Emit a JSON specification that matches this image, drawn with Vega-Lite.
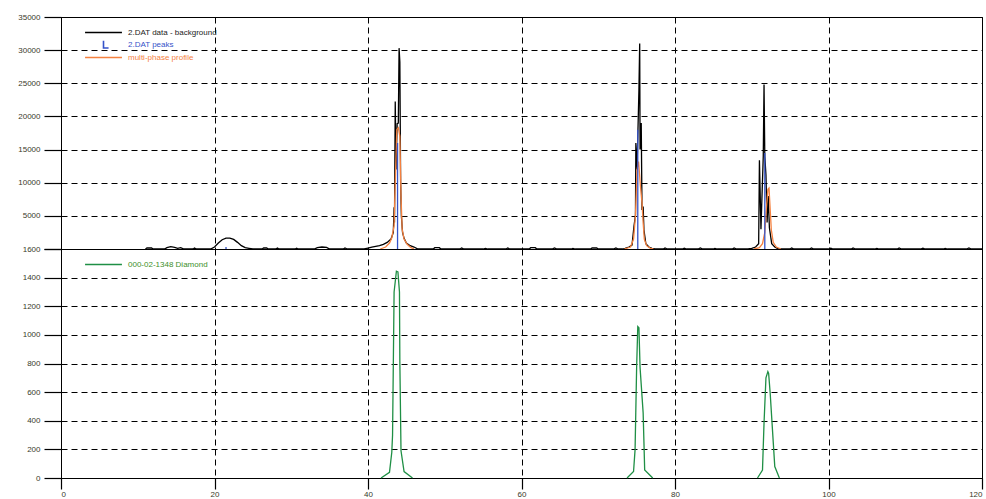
{
  "$schema": "https://vega.github.io/schema/vega-lite/v6.json",
  "padding": {"left": 5, "top": 12, "right": 5, "bottom": 0},
  "background": "white",
  "spacing": 0,
  "bounds": "flush",
  "config": {
    "font": "Liberation Sans",
    "view": {"stroke": "#000", "strokeWidth": 1},
    "axis": {
      "grid": true, "gridColor": "#000", "gridDash": [6, 4], "gridWidth": 1, "gridOpacity": 1,
      "domainColor": "#000", "domainWidth": 1, "tickColor": "#000", "tickWidth": 1.2,
      "labelFontSize": 8, "labelColor": "#3a3a2a", "labelFont": "Liberation Sans", "title": null
    },
    "legend": {
      "orient": "none", "title": null, "padding": 0, "labelFontSize": 8, "labelFont": "Liberation Sans",
      "labelOffset": 19, "rowPadding": 0, "symbolStrokeWidth": 1.6,
      "symbolType": "M-4,0H4", "symbolSize": 85
    }
  },
  "datasets": {
    "obs": [
      {"t":11,"v":0},{"t":11.2,"v":150},{"t":11.8,"v":150},{"t":12,"v":0},{"t":13.5,"v":0},{"t":13.8,"v":200},{"t":14.3,"v":350},{"t":14.8,"v":250},{"t":15.2,"v":100},{"t":15.6,"v":200},{"t":16,"v":0},{"t":17.2,"v":0},{"t":17.4,"v":150},{"t":17.6,"v":0},
      {"t":19.5,"v":0},{"t":20.0,"v":300},{"t":20.5,"v":900},{"t":21.0,"v":1400},{"t":21.5,"v":1650},{"t":22.0,"v":1650},{"t":22.5,"v":1450},{"t":23.0,"v":1000},{"t":23.5,"v":500},{"t":24.0,"v":200},{"t":24.5,"v":100},{"t":25,"v":0},
      {"t":26.2,"v":0},{"t":26.4,"v":150},{"t":26.8,"v":150},{"t":27,"v":0},{"t":28,"v":0},{"t":28.2,"v":150},{"t":28.4,"v":0},{"t":30.5,"v":0},{"t":30.7,"v":120},{"t":30.9,"v":0},{"t":33.0,"v":0},{"t":33.4,"v":200},{"t":34.0,"v":300},{"t":34.6,"v":250},{"t":35.0,"v":0},{"t":36.8,"v":0},{"t":37,"v":150},{"t":37.3,"v":0},
      {"t":39.5,"v":0},{"t":40,"v":150},{"t":40.5,"v":300},{"t":41,"v":400},{"t":41.5,"v":500},{"t":42,"v":700},{"t":42.5,"v":1000},{"t":43.0,"v":1500},{"t":43.3,"v":2500},{"t":43.4,"v":6300},{"t":43.45,"v":4000},{"t":43.55,"v":22250},{"t":43.65,"v":12000},{"t":43.8,"v":18900},{"t":43.95,"v":19000},{"t":44.05,"v":30300},{"t":44.15,"v":28200},{"t":44.25,"v":10000},{"t":44.35,"v":5000},{"t":44.5,"v":2500},{"t":44.7,"v":1600},{"t":45.0,"v":900},{"t":45.5,"v":500},{"t":46,"v":300},{"t":46.5,"v":0},
      {"t":48.5,"v":0},{"t":48.7,"v":200},{"t":49.3,"v":200},{"t":49.5,"v":0},{"t":52,"v":0},{"t":52.2,"v":150},{"t":52.5,"v":0},{"t":55,"v":0},{"t":55.3,"v":100},{"t":55.6,"v":0},{"t":58,"v":0},{"t":58.2,"v":150},{"t":58.5,"v":0},{"t":61,"v":0},{"t":61.2,"v":200},{"t":61.8,"v":200},{"t":62,"v":0},{"t":64,"v":0},{"t":64.3,"v":150},{"t":64.6,"v":0},{"t":66.5,"v":0},{"t":66.7,"v":100},{"t":67,"v":0},{"t":69,"v":0},{"t":69.2,"v":150},{"t":69.8,"v":150},{"t":70,"v":0},{"t":72,"v":0},{"t":72.3,"v":150},{"t":72.6,"v":0},
      {"t":73.2,"v":0},{"t":73.5,"v":100},{"t":74.0,"v":300},{"t":74.4,"v":600},{"t":74.65,"v":3400},{"t":74.85,"v":5100},{"t":74.9,"v":16000},{"t":75.05,"v":12000},{"t":75.3,"v":24000},{"t":75.4,"v":31000},{"t":75.45,"v":15000},{"t":75.6,"v":19000},{"t":75.7,"v":5900},{"t":75.85,"v":6400},{"t":75.95,"v":2900},{"t":76.2,"v":800},{"t":76.6,"v":300},{"t":77,"v":100},{"t":77.4,"v":0},
      {"t":78.5,"v":0},{"t":78.7,"v":150},{"t":79,"v":0},{"t":81,"v":0},{"t":81.2,"v":120},{"t":81.5,"v":0},{"t":83,"v":0},{"t":83.3,"v":150},{"t":83.6,"v":0},{"t":85,"v":0},{"t":85.2,"v":100},{"t":85.5,"v":0},{"t":87.5,"v":0},{"t":87.7,"v":150},{"t":88,"v":0},
      {"t":89.5,"v":0},{"t":90.0,"v":100},{"t":90.5,"v":300},{"t":90.9,"v":800},{"t":91.0,"v":13400},{"t":91.2,"v":3000},{"t":91.5,"v":14000},{"t":91.6,"v":24800},{"t":91.7,"v":14000},{"t":91.85,"v":11200},{"t":92.0,"v":4000},{"t":92.15,"v":8000},{"t":92.3,"v":3200},{"t":92.6,"v":800},{"t":93.0,"v":300},{"t":93.5,"v":0},
      {"t":95,"v":0},{"t":95.2,"v":150},{"t":95.5,"v":0},{"t":97.5,"v":0},{"t":97.8,"v":150},{"t":98,"v":0},{"t":100,"v":0},{"t":100.3,"v":120},{"t":100.6,"v":0},{"t":103,"v":0},{"t":103.2,"v":150},{"t":103.5,"v":0},{"t":106,"v":0},{"t":106.3,"v":100},{"t":106.6,"v":0},{"t":109,"v":0},{"t":109.2,"v":150},{"t":109.5,"v":0},{"t":112,"v":0},{"t":112.3,"v":120},{"t":112.6,"v":0},{"t":115,"v":0},{"t":115.2,"v":100},{"t":115.5,"v":0},{"t":118,"v":0},{"t":118.3,"v":150},{"t":118.6,"v":0},{"t":120,"v":0}
    ],
    "calc": [
      {"pk":1,"t":41.6,"v":0},{"pk":1,"t":42.3,"v":300},{"pk":1,"t":42.8,"v":900},{"pk":1,"t":43.1,"v":1700},{"pk":1,"t":43.4,"v":3500},{"pk":1,"t":43.6,"v":12000},{"pk":1,"t":43.75,"v":18000},{"pk":1,"t":43.95,"v":18300},{"pk":1,"t":44.15,"v":17000},{"pk":1,"t":44.3,"v":8000},{"pk":1,"t":44.45,"v":3000},{"pk":1,"t":44.7,"v":1500},{"pk":1,"t":45.1,"v":700},{"pk":1,"t":45.6,"v":200},{"pk":1,"t":46.0,"v":0},
      {"pk":2,"t":73.4,"v":0},{"pk":2,"t":74.2,"v":300},{"pk":2,"t":74.6,"v":1500},{"pk":2,"t":74.85,"v":5000},{"pk":2,"t":75.05,"v":12000},{"pk":2,"t":75.25,"v":13200},{"pk":2,"t":75.4,"v":11000},{"pk":2,"t":75.5,"v":9400},{"pk":2,"t":75.7,"v":7000},{"pk":2,"t":75.85,"v":4000},{"pk":2,"t":76.0,"v":1500},{"pk":2,"t":76.3,"v":500},{"pk":2,"t":76.8,"v":100},{"pk":2,"t":77.2,"v":0},
      {"pk":3,"t":90.3,"v":0},{"pk":3,"t":91.0,"v":200},{"pk":3,"t":91.4,"v":800},{"pk":3,"t":91.7,"v":2500},{"pk":3,"t":91.9,"v":6000},{"pk":3,"t":92.1,"v":9000},{"pk":3,"t":92.25,"v":9200},{"pk":3,"t":92.4,"v":6000},{"pk":3,"t":92.55,"v":2900},{"pk":3,"t":92.8,"v":1000},{"pk":3,"t":93.2,"v":300},{"pk":3,"t":93.8,"v":0}
    ],
    "peaks": [
      {"t":21.5,"v":300},{"t":43.85,"v":16000},{"t":75.15,"v":18000},{"t":91.7,"v":14500}
    ],
    "diam": [
      {"pk":1,"t":41.7,"v":0},{"pk":1,"t":42.8,"v":40},{"pk":1,"t":43.1,"v":180},{"pk":1,"t":43.2,"v":300},{"pk":1,"t":43.4,"v":1300},{"pk":1,"t":43.7,"v":1445},{"pk":1,"t":43.9,"v":1440},{"pk":1,"t":44.1,"v":1300},{"pk":1,"t":44.15,"v":810},{"pk":1,"t":44.3,"v":190},{"pk":1,"t":44.7,"v":45},{"pk":1,"t":45.8,"v":0},
      {"pk":2,"t":73.75,"v":0},{"pk":2,"t":74.6,"v":45},{"pk":2,"t":74.8,"v":200},{"pk":2,"t":75.0,"v":770},{"pk":2,"t":75.15,"v":1058},{"pk":2,"t":75.3,"v":1050},{"pk":2,"t":75.45,"v":770},{"pk":2,"t":75.85,"v":455},{"pk":2,"t":76.05,"v":56},{"pk":2,"t":77.1,"v":0},
      {"pk":3,"t":90.75,"v":0},{"pk":3,"t":91.4,"v":56},{"pk":3,"t":91.6,"v":385},{"pk":3,"t":91.85,"v":700},{"pk":3,"t":92.1,"v":743},{"pk":3,"t":92.2,"v":730},{"pk":3,"t":92.4,"v":594},{"pk":3,"t":92.7,"v":336},{"pk":3,"t":93.0,"v":80},{"pk":3,"t":93.6,"v":0}
    ]
  },
  "resolve": {"scale": {"color": "independent"}, "legend": {"color": "independent"}},
  "vconcat": [
    {
      "width": 921,
      "height": 232,
      "encoding": {
        "x": {"field": "t", "type": "quantitative", "scale": {"domain": [0, 120], "nice": false},
          "axis": {"values": [0, 20, 40, 60, 80, 100, 120], "labels": false, "ticks": false, "domain": true, "minExtent": 0, "maxExtent": 0, "offset": 0}},
        "y": {"field": "v", "type": "quantitative", "scale": {"domain": [0, 35000], "nice": false},
          "axis": {"values": [0, 5000, 10000, 15000, 20000, 25000, 30000, 35000], "format": "d", "tickSize": 17, "labelPadding": 4,
            "labelExpr": "datum.value == 0 ? '' : datum.label", "minExtent": 55, "maxExtent": 55}}
      },
      "layer": [
        {
          "data": {"name": "obs"},
          "mark": {"type": "line", "strokeWidth": 1.3},
          "encoding": {
            "color": {"datum": "2.DAT data - background", "type": "nominal",
              "scale": {"domain": ["2.DAT data - background", "2.DAT peaks", "multi-phase profile"], "range": ["#000000", "#3553c9", "#f5813f"]},
              "legend": {"legendX": 37, "legendY": 10,
                "encode": {
                  "symbols": {"update": {
                    "shape": {"signal": "datum.value === '2.DAT peaks' ? 'M0,-0.8V0.75H1.1' : 'M-4,0H4'"},
                    "fill": {"value": "transparent"}
                  }},
                  "labels": {"update": {"fill": {"signal": "datum.value === '2.DAT peaks' ? '#3553c9' : (datum.value === 'multi-phase profile' ? '#f5813f' : '#222222')"}}}
                }}}
          }
        },
        {
          "data": {"name": "calc"},
          "mark": {"type": "line", "strokeWidth": 1.3},
          "encoding": {
            "detail": {"field": "pk", "type": "nominal"},
            "color": {"datum": "multi-phase profile", "type": "nominal"}
          }
        },
        {
          "data": {"name": "peaks"},
          "mark": {"type": "rule", "strokeWidth": 1.3},
          "encoding": {
            "y2": {"datum": 0},
            "color": {"datum": "2.DAT peaks", "type": "nominal"}
          }
        }
      ]
    },
    {
      "width": 921,
      "height": 229,
      "data": {"name": "diam"},
      "mark": {"type": "line", "strokeWidth": 1.3},
      "encoding": {
        "x": {"field": "t", "type": "quantitative", "scale": {"domain": [0, 120], "nice": false},
          "axis": {"values": [0, 20, 40, 60, 80, 100, 120], "tickSize": 11, "labelPadding": 1}},
        "y": {"field": "v", "type": "quantitative", "scale": {"domain": [0, 1600], "nice": false},
          "axis": {"values": [0, 200, 400, 600, 800, 1000, 1200, 1400, 1600], "format": "d", "tickSize": 17, "labelPadding": 4, "minExtent": 55, "maxExtent": 55}},
        "detail": {"field": "pk", "type": "nominal"},
        "color": {"datum": "000-02-1348 Diamond", "type": "nominal",
          "scale": {"range": ["#1f8f45"]},
          "legend": {"legendX": 37, "legendY": 10, "labelColor": "#3d8f2a",
            "encode": {"symbols": {"update": {"fill": {"value": "transparent"}}}}}}
      }
    }
  ]
}
